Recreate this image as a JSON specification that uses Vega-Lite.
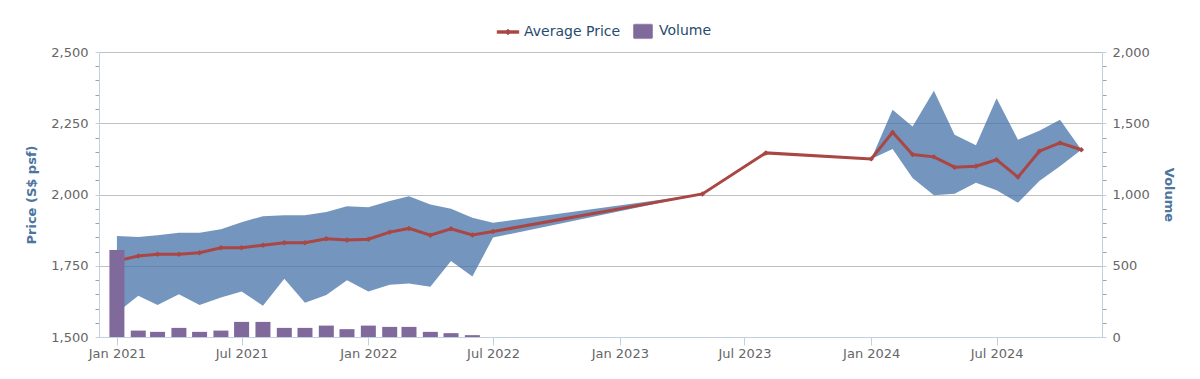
{
  "$schema": "https://vega.github.io/schema/vega-lite/v6.json",
  "width": 1003,
  "height": 285,
  "autosize": {"type": "none"},
  "padding": {"left": 99, "top": 52, "right": 98, "bottom": 42},
  "config": {"view": {"stroke": null}, "font": "DejaVu Sans"},
  "data": {
    "format": {"parse": {"date": "date:'%Y-%m'"}},
    "values": [
      {"date": "2021-01", "price": 1767, "low": 1585, "high": 1854, "volume": 610},
      {"date": "2021-02", "price": 1784, "low": 1645, "high": 1851, "volume": 45},
      {"date": "2021-03", "price": 1790, "low": 1612, "high": 1857, "volume": 36},
      {"date": "2021-04", "price": 1790, "low": 1650, "high": 1866, "volume": 64},
      {"date": "2021-05", "price": 1796, "low": 1612, "high": 1866, "volume": 36},
      {"date": "2021-06", "price": 1813, "low": 1639, "high": 1878, "volume": 45},
      {"date": "2021-07", "price": 1813, "low": 1660, "high": 1903, "volume": 106},
      {"date": "2021-08", "price": 1822, "low": 1610, "high": 1924, "volume": 106},
      {"date": "2021-09", "price": 1831, "low": 1704, "high": 1927, "volume": 64},
      {"date": "2021-10", "price": 1831, "low": 1620, "high": 1927, "volume": 64},
      {"date": "2021-11", "price": 1845, "low": 1647, "high": 1939, "volume": 80},
      {"date": "2021-12", "price": 1840, "low": 1699, "high": 1959, "volume": 55},
      {"date": "2022-01", "price": 1843, "low": 1660, "high": 1955, "volume": 80},
      {"date": "2022-02", "price": 1868, "low": 1683, "high": 1977, "volume": 71},
      {"date": "2022-03", "price": 1881, "low": 1688, "high": 1994, "volume": 71},
      {"date": "2022-04", "price": 1857, "low": 1676, "high": 1965, "volume": 36},
      {"date": "2022-05", "price": 1880, "low": 1767, "high": 1950, "volume": 27},
      {"date": "2022-06", "price": 1858, "low": 1712, "high": 1918, "volume": 13},
      {"date": "2022-07", "price": 1870, "low": 1849, "high": 1901, "volume": null},
      {"date": "2023-05", "price": 2002, "low": 2002, "high": 2002, "volume": null},
      {"date": "2023-08", "price": 2146, "low": 2146, "high": 2146, "volume": null},
      {"date": "2024-01", "price": 2125, "low": 2125, "high": 2125, "volume": null},
      {"date": "2024-02", "price": 2218, "low": 2160, "high": 2297, "volume": null},
      {"date": "2024-03", "price": 2140, "low": 2058, "high": 2239, "volume": null},
      {"date": "2024-04", "price": 2132, "low": 1997, "high": 2364, "volume": null},
      {"date": "2024-05", "price": 2096, "low": 2003, "high": 2210, "volume": null},
      {"date": "2024-06", "price": 2099, "low": 2041, "high": 2173, "volume": null},
      {"date": "2024-07", "price": 2122, "low": 2015, "high": 2338, "volume": null},
      {"date": "2024-08", "price": 2061, "low": 1971, "high": 2192, "volume": null},
      {"date": "2024-09", "price": 2152, "low": 2047, "high": 2224, "volume": null},
      {"date": "2024-10", "price": 2181, "low": 2099, "high": 2262, "volume": null},
      {"date": "2024-11", "price": 2157, "low": 2157, "high": 2157, "volume": null}
    ]
  },
  "encoding": {
    "x": {
      "field": "date",
      "type": "temporal",
      "title": null,
      "scale": {"domain": [{"year": 2020, "month": 12, "date": 6}, {"year": 2024, "month": 12, "date": 1}], "padding": 0},
      "axis": {
        "values": [
          {"year": 2021, "month": 1, "date": 1}, {"year": 2021, "month": 7, "date": 1},
          {"year": 2022, "month": 1, "date": 1}, {"year": 2022, "month": 7, "date": 1},
          {"year": 2023, "month": 1, "date": 1}, {"year": 2023, "month": 7, "date": 1},
          {"year": 2024, "month": 1, "date": 1}, {"year": 2024, "month": 7, "date": 1}
        ],
        "format": "%b %Y",
        "grid": false,
        "domainColor": "#C0D0E0",
        "tickColor": "#C0D0E0",
        "tickSize": 8,
        "labelFontSize": 13,
        "labelColor": "#666666",
        "labelPadding": 2,
        "labelFont": "DejaVu Sans"
      }
    }
  },
  "layer": [
    {
      "layer": [
        {
          "mark": {"type": "area", "color": "#4572A7", "opacity": 0.75},
          "encoding": {
            "y": {
              "field": "low",
              "type": "quantitative",
              "title": "Price (S$ psf)",
              "scale": {"domain": [1500, 2500], "nice": false, "zero": false},
              "axis": {
                "values": [1500,1550,1600,1650,1700,1750,1800,1850,1900,1950,2000,2050,2100,2150,2200,2250,2300,2350,2400,2450,2500],
                "labelExpr": "datum.value % 250 === 0 ? format(datum.value, ',') : ''",
                "labelOverlap": false,
                "grid": true,
                "gridColor": "#C0C0C0",
                "gridOpacity": {"condition": {"test": "datum.value % 250 === 0", "value": 1}, "value": 0},
                "tickColor": {"condition": {"test": "datum.value % 250 === 0", "value": "#C0D0E0"}, "value": "#A0A0A0"},
                "tickSize": 4,
                "domainColor": "#C0D0E0",
                "labelFontSize": 13,
                "labelColor": "#666666",
                "labelPadding": 7,
                "titleColor": "#4d759e",
                "titleFontSize": 13,
                "titleFontWeight": "bold",
                "titlePadding": 12
              }
            },
            "y2": {"field": "high"}
          }
        },
        {
          "mark": {"type": "line", "strokeWidth": 3, "point": {"shape": "diamond", "size": 30, "filled": true}},
          "encoding": {
            "y": {
              "field": "price",
              "type": "quantitative",
              "title": "Price (S$ psf)",
              "scale": {"domain": [1500, 2500], "nice": false, "zero": false},
              "axis": {
                "values": [1500,1550,1600,1650,1700,1750,1800,1850,1900,1950,2000,2050,2100,2150,2200,2250,2300,2350,2400,2450,2500],
                "labelExpr": "datum.value % 250 === 0 ? format(datum.value, ',') : ''",
                "labelOverlap": false,
                "grid": true,
                "gridColor": "#C0C0C0",
                "gridOpacity": {"condition": {"test": "datum.value % 250 === 0", "value": 1}, "value": 0},
                "tickColor": {"condition": {"test": "datum.value % 250 === 0", "value": "#C0D0E0"}, "value": "#A0A0A0"},
                "tickSize": 4,
                "domainColor": "#C0D0E0",
                "labelFontSize": 13,
                "labelColor": "#666666",
                "labelPadding": 7,
                "titleColor": "#4d759e",
                "titleFontSize": 13,
                "titleFontWeight": "bold",
                "titlePadding": 12
              }
            },
            "color": {
              "datum": "Average Price",
              "scale": {"domain": ["Average Price", "Volume"], "range": ["#AA4643", "#80699B"]},
              "legend": {
                "title": null,
                "orient": "none",
                "direction": "horizontal",
                "legendX": 397,
                "legendY": -33,
                "labelFontSize": 14,
                "labelColor": "#274b6d",
                "labelFont": "DejaVu Sans",
                "symbolSize": 529,
                "labelOffset": 4,
                "columnPadding": 10,
                "encode": {
                  "symbols": {
                    "update": {
                      "shape": {"signal": "datum.value === 'Volume' ? 'M-0.72,-0.63L0.72,-0.63Q0.83,-0.63 0.83,-0.52L0.83,0.52Q0.83,0.63 0.72,0.63L-0.72,0.63Q-0.83,0.63 -0.83,0.52L-0.83,-0.52Q-0.83,-0.63 -0.72,-0.63Z' : 'M-0.95,-0.12L0.95,-0.12L0.95,0.12L-0.95,0.12ZM0,-0.26L0.26,0L0,0.26L-0.26,0Z'"},
                      "fill": {"signal": "datum.value === 'Volume' ? '#80699B' : '#AA4643'"},
                      "stroke": {"signal": "datum.value === 'Volume' ? '#80699B' : '#AA4643'"},
                      "strokeWidth": {"value": 0.5},
                      "opacity": {"value": 1},
                      "fillOpacity": {"value": 1}
                    }
                  }
                }
              }
            }
          }
        }
      ]
    },
    {
      "mark": {"type": "bar", "size": 15},
      "encoding": {
        "y": {
          "field": "volume",
          "type": "quantitative",
          "title": "Volume",
          "scale": {"domain": [0, 2000], "nice": false},
          "axis": {
            "orient": "right",
            "values": [0,100,200,300,400,500,600,700,800,900,1000,1100,1200,1300,1400,1500,1600,1700,1800,1900,2000],
            "labelExpr": "datum.value % 500 === 0 ? format(datum.value, ',') : ''",
            "labelOverlap": false,
            "grid": false,
            "tickColor": {"condition": {"test": "datum.value % 500 === 0", "value": "#C0D0E0"}, "value": "#A0A0A0"},
            "tickSize": 4,
            "domainColor": "#C0D0E0",
            "labelFontSize": 13,
            "labelColor": "#666666",
            "labelPadding": 6,
            "titleColor": "#4d759e",
            "titleFontSize": 13,
            "titleFontWeight": "bold",
            "titlePadding": 12
          }
        },
        "color": {"datum": "Volume"}
      }
    }
  ],
  "resolve": {"scale": {"y": "independent"}}
}
